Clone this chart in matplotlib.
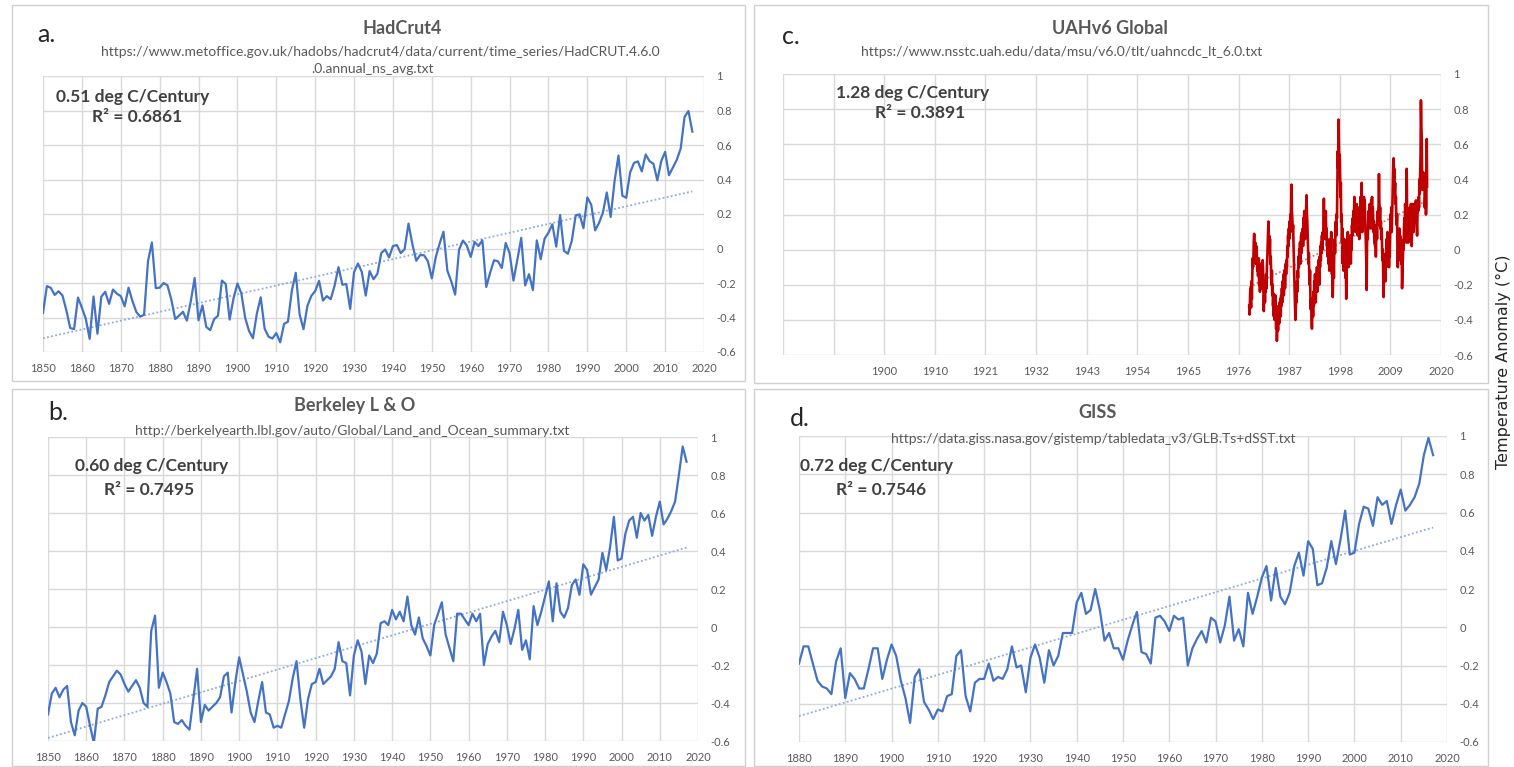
import numpy as np
import matplotlib
matplotlib.use("Agg")
import matplotlib.pyplot as plt
from matplotlib.patches import Rectangle

# ---------------------------------------------------------------- data
hadcrut_start = 1850
hadcrut = [
    -0.373, -0.218, -0.228, -0.269, -0.248, -0.272, -0.358, -0.461, -0.467, -0.284,
    -0.343, -0.407, -0.524, -0.278, -0.494, -0.279, -0.251, -0.321, -0.238, -0.262,
    -0.276, -0.335, -0.227, -0.304, -0.368, -0.395, -0.384, -0.075, 0.035, -0.230,
    -0.227, -0.200, -0.213, -0.296, -0.409, -0.389, -0.367, -0.418, -0.307, -0.171,
    -0.416, -0.330, -0.455, -0.473, -0.410, -0.390, -0.186, -0.206, -0.412, -0.289,
    -0.203, -0.259, -0.402, -0.479, -0.520, -0.377, -0.283, -0.465, -0.511, -0.522,
    -0.490, -0.544, -0.437, -0.424, -0.244, -0.141, -0.383, -0.468, -0.333, -0.275,
    -0.247, -0.187, -0.302, -0.276, -0.294, -0.215, -0.108, -0.210, -0.206, -0.350,
    -0.137, -0.087, -0.137, -0.273, -0.131, -0.178, -0.147, -0.026, -0.006, -0.052,
    0.014, 0.020, -0.027, -0.004, 0.144, 0.025, -0.071, -0.038, -0.039, -0.074,
    -0.173, -0.052, 0.028, 0.097, -0.129, -0.190, -0.267, -0.007, 0.046, 0.017,
    -0.049, 0.038, 0.014, 0.048, -0.223, -0.140, -0.068, -0.074, -0.113, 0.032,
    -0.027, -0.186, -0.065, 0.062, -0.214, -0.149, -0.241, 0.047, -0.062, 0.057,
    0.092, 0.140, 0.011, 0.194, -0.014, -0.030, 0.045, 0.192, 0.198, 0.118,
    0.296, 0.254, 0.105, 0.148, 0.208, 0.325, 0.183, 0.390, 0.539, 0.306,
    0.294, 0.441, 0.496, 0.505, 0.447, 0.545, 0.506, 0.491, 0.395, 0.506,
    0.560, 0.425, 0.470, 0.514, 0.579, 0.763, 0.797, 0.677,
]

berkeley_start = 1850
berkeley = [
    -0.46, -0.35, -0.32, -0.37, -0.33, -0.31, -0.50, -0.57, -0.44, -0.40,
    -0.42, -0.52, -0.61, -0.43, -0.42, -0.36, -0.29, -0.26, -0.23, -0.25,
    -0.30, -0.34, -0.31, -0.28, -0.32, -0.40, -0.42, -0.02, 0.06, -0.32,
    -0.24, -0.29, -0.35, -0.50, -0.51, -0.49, -0.52, -0.54, -0.38, -0.22,
    -0.50, -0.41, -0.44, -0.42, -0.40, -0.37, -0.26, -0.24, -0.45, -0.29,
    -0.16, -0.25, -0.34, -0.45, -0.50, -0.39, -0.29, -0.45, -0.46, -0.53,
    -0.52, -0.53, -0.46, -0.39, -0.27, -0.18, -0.38, -0.53, -0.38, -0.30,
    -0.29, -0.22, -0.30, -0.28, -0.26, -0.22, -0.08, -0.18, -0.19, -0.36,
    -0.15, -0.07, -0.13, -0.30, -0.15, -0.19, -0.14, 0.02, 0.03, 0.01,
    0.09, 0.04, 0.08, 0.03, 0.16, 0.01, -0.04, 0.05, -0.06, -0.10,
    -0.15, 0.01, 0.07, 0.13, -0.04, -0.11, -0.18, 0.07, 0.07, 0.04,
    0.01, 0.07, 0.03, 0.07, -0.20, -0.09, -0.05, -0.02, -0.08, 0.08,
    0.01, -0.09, -0.01, 0.09, -0.12, -0.07, -0.17, 0.11, 0.01, 0.08,
    0.16, 0.24, 0.03, 0.23, 0.08, 0.05, 0.10, 0.22, 0.25, 0.17,
    0.33, 0.30, 0.17, 0.21, 0.25, 0.39, 0.30, 0.42, 0.58, 0.35,
    0.36, 0.49, 0.56, 0.58, 0.47, 0.60, 0.56, 0.59, 0.48, 0.58,
    0.66, 0.54, 0.57, 0.61, 0.66, 0.80, 0.95, 0.87,
]

giss_start = 1880
giss = [
    -0.19, -0.10, -0.10, -0.19, -0.28, -0.31, -0.32, -0.35, -0.18, -0.11,
    -0.37, -0.24, -0.27, -0.32, -0.32, -0.22, -0.11, -0.11, -0.27, -0.17,
    -0.09, -0.15, -0.28, -0.37, -0.50, -0.26, -0.22, -0.39, -0.43, -0.48,
    -0.43, -0.44, -0.36, -0.35, -0.15, -0.12, -0.36, -0.44, -0.29, -0.27,
    -0.27, -0.19, -0.28, -0.26, -0.27, -0.22, -0.10, -0.21, -0.20, -0.34,
    -0.16, -0.09, -0.16, -0.29, -0.12, -0.20, -0.15, -0.03, -0.03, -0.03,
    0.13, 0.18, 0.07, 0.09, 0.20, 0.09, -0.07, -0.03, -0.11, -0.11,
    -0.17, -0.07, 0.01, 0.08, -0.13, -0.14, -0.19, 0.05, 0.06, 0.03,
    -0.02, 0.06, 0.04, 0.05, -0.20, -0.11, -0.06, -0.02, -0.08, 0.05,
    0.03, -0.08, 0.01, 0.16, -0.07, -0.01, -0.10, 0.18, 0.07, 0.16,
    0.26, 0.32, 0.14, 0.31, 0.16, 0.12, 0.18, 0.32, 0.39, 0.27,
    0.45, 0.41, 0.22, 0.23, 0.31, 0.45, 0.33, 0.46, 0.61, 0.38,
    0.39, 0.54, 0.63, 0.62, 0.53, 0.68, 0.64, 0.66, 0.54, 0.64,
    0.72, 0.61, 0.64, 0.68, 0.75, 0.90, 0.99, 0.90,
]

# monthly lower-troposphere anomalies, first value = December 1978
uah_start = 1978 + 11.5 / 12
uah_monthly = [
    -0.32,
    -0.37, -0.30, -0.22, -0.27, -0.33, -0.18, -0.28, -0.15, -0.05, -0.10, -0.06, 0.05,
    0.09, 0.02, -0.03, 0.04, -0.01, -0.08, 0.02, -0.04, -0.12, -0.06, -0.15, -0.10,
    -0.05, -0.20, -0.12, -0.24, -0.10, -0.16, -0.08, -0.22, -0.14, -0.18, -0.06, -0.12,
    -0.25, -0.35, -0.28, -0.20, -0.30, -0.18, -0.24, -0.14, -0.22, -0.10, -0.05, 0.02,
    0.10, 0.16, 0.04, 0.08, -0.02, 0.06, -0.08, -0.04, -0.14, -0.20, -0.12, -0.26,
    -0.20, -0.32, -0.25, -0.38, -0.28, -0.40, -0.33, -0.26, -0.36, -0.45, -0.40, -0.52,
    -0.44, -0.38, -0.46, -0.32, -0.36, -0.42, -0.30, -0.34, -0.28, -0.38, -0.26, -0.32,
    -0.22, -0.30, -0.18, -0.24, -0.14, -0.26, -0.20, -0.12, -0.22, -0.16, -0.08, -0.14,
    -0.06, -0.10, 0.02, -0.04, 0.08, 0.02, 0.12, 0.06, 0.16, 0.10, 0.20, 0.14,
    0.26, 0.37, 0.22, 0.18, 0.10, 0.14, 0.04, -0.06, -0.14, -0.22, -0.30, -0.40,
    -0.34, -0.26, -0.30, -0.18, -0.24, -0.12, -0.16, -0.04, -0.10, 0.00, -0.06, 0.04,
    -0.08, 0.02, 0.08, -0.02, 0.10, 0.04, 0.12, 0.02, 0.18, 0.08, 0.22, 0.14,
    0.06, 0.18, 0.10, 0.24, 0.31, 0.20, 0.16, 0.08, 0.02, -0.08, -0.02, -0.14,
    -0.20, -0.12, -0.26, -0.34, -0.28, -0.40, -0.45, -0.36, -0.30, -0.38, -0.24, -0.32,
    -0.18, -0.26, -0.14, -0.22, -0.30, -0.16, -0.20, -0.10, -0.24, -0.12, -0.18, -0.06,
    -0.12, -0.20, -0.04, -0.10, 0.02, -0.06, 0.04, -0.02, 0.08, 0.00, 0.10, 0.06,
    0.14, 0.29, 0.12, 0.20, 0.06, 0.16, 0.22, 0.08, 0.12, 0.02, 0.06, -0.04,
    0.04, -0.08, 0.02, -0.12, -0.04, 0.06, -0.06, 0.02, 0.10, -0.02, -0.14, -0.06,
    -0.27, -0.14, -0.04, -0.16, 0.00, 0.06, -0.02, 0.10, 0.16, 0.08, 0.20, 0.18,
    0.36, 0.56, 0.46, 0.74, 0.60, 0.48, 0.54, 0.44, 0.30, 0.38, 0.16, 0.20,
    0.04, 0.12, -0.08, 0.02, -0.12, -0.04, 0.06, -0.10, 0.00, -0.16, -0.06, -0.28,
    -0.14, 0.04, -0.06, 0.10, 0.00, -0.10, 0.06, 0.02, -0.04, 0.08, -0.02, -0.08,
    0.06, 0.00, 0.14, 0.08, 0.18, 0.12, 0.22, 0.16, 0.30, 0.12, 0.20, 0.10,
    0.22, 0.16, 0.26, 0.12, 0.20, 0.08, 0.24, 0.14, 0.18, 0.06, 0.16, 0.10,
    0.30, 0.20, 0.12, 0.38, 0.18, 0.10, 0.22, 0.28, 0.14, 0.30, 0.20, 0.28,
    0.18, 0.10, 0.04, -0.06, -0.23, 0.02, 0.10, 0.06, 0.16, 0.22, 0.14, 0.20,
    0.26, 0.16, 0.22, 0.12, 0.28, 0.20, 0.30, 0.14, 0.24, 0.18, 0.10, 0.16,
    0.04, 0.14, 0.02, 0.10, -0.04, 0.08, 0.14, 0.06, 0.18, 0.22, 0.14, 0.26,
    0.43, 0.28, 0.18, 0.24, 0.12, 0.16, 0.06, 0.12, 0.02, -0.06, 0.00, -0.12,
    -0.27, -0.14, -0.06, -0.16, -0.08, -0.18, -0.02, -0.10, 0.06, 0.00, 0.10, -0.02,
    -0.06, 0.04, -0.10, 0.02, -0.04, 0.08, 0.20, 0.12, 0.24, 0.10, 0.18, 0.26,
    0.38, 0.48, 0.52, 0.40, 0.46, 0.34, 0.38, 0.26, 0.30, 0.18, 0.14, 0.20,
    0.00, -0.10, -0.02, 0.08, -0.06, 0.12, 0.02, 0.08, -0.04, 0.06, -0.08, 0.00,
    -0.22, -0.14, -0.06, 0.04, 0.00, 0.12, 0.18, 0.10, 0.26, 0.20, 0.12, 0.04,
    0.46, 0.22, 0.10, 0.14, 0.04, 0.20, 0.08, 0.14, 0.24, 0.18, 0.10, 0.26,
    0.12, 0.02, 0.16, 0.20, 0.26, 0.18, 0.10, 0.16, 0.22, 0.26, 0.20, 0.24,
    0.28, 0.18, 0.14, 0.08, 0.20, 0.28, 0.22, 0.30, 0.24, 0.40, 0.32, 0.44,
    0.54, 0.85, 0.70, 0.64, 0.44, 0.34, 0.40, 0.44, 0.42, 0.36, 0.42, 0.24,
    0.30, 0.38, 0.20, 0.26, 0.63, 0.36,
]

# trend rates (deg C per century) and fit quality printed on each panel
trend_rates = {"a": 0.51, "b": 0.60, "c": 1.28, "d": 0.72}
r_squared = {"a": "0.6861", "b": "0.7495", "c": "0.3891", "d": "0.7546"}

titles = {"a": "HadCrut4", "b": "Berkeley L & O", "c": "UAHv6 Global", "d": "GISS"}
sources = {
    "a": "https://www.metoffice.gov.uk/hadobs/hadcrut4/data/current/time_series/HadCRUT.4.6.0",
    "a2": ".0.annual_ns_avg.txt",
    "b": "http://berkelyearth.lbl.gov/auto/Global/Land_and_Ocean_summary.txt",
    "c": "https://www.nsstc.uah.edu/data/msu/v6.0/tlt/uahncdc_lt_6.0.txt",
    "d": "https://data.giss.nasa.gov/gistemp/tabledata_v3/GLB.Ts+dSST.txt",
}

y_ticks = [-0.6, -0.4, -0.2, 0.0, 0.2, 0.4, 0.6, 0.8, 1.0]
y_tick_labels = ["-0.6", "-0.4", "-0.2", "0", "0.2", "0.4", "0.6", "0.8", "1"]
decade_ticks_1850 = list(range(1850, 2021, 10))
decade_ticks_1880 = list(range(1880, 2021, 10))
uah_tick_labels = ["1900", "1910", "1921", "1932", "1943", "1954",
                   "1965", "1976", "1987", "1998", "2009", "2020"]
y_axis_label = "Temperature Anomaly (\u00b0C)"

# ---------------------------------------------------------------- styling
W, H = 1514, 767
FONT = ["Lato", "DejaVu Sans"]
BLUE = "#4472C4"
TREND_BLUE = "#8FAADC"
RED = "#C00000"
GRID = "#D9D9D9"
TICK = "#595959"
TEXT = "#404040"

fig = plt.figure(figsize=(W / 100, H / 100), dpi=100)
fig.patch.set_facecolor("white")


def px_rect(left, right, top, bottom):
    return [left / W, 1 - bottom / H, (right - left) / W, (bottom - top) / H]


def ftext(x, y, s, **kw):
    kw.setdefault("family", FONT)
    fig.text(x / W, 1 - y / H, s, **kw)


def panel_box(left, right, top, bottom):
    fig.add_artist(Rectangle((left / W, 1 - bottom / H), (right - left) / W,
                             (bottom - top) / H, transform=fig.transFigure,
                             fill=False, edgecolor="#D0D0D0", lw=1.0))


def setup_axes(rect, xlim, xticks, xticklabels):
    ax = fig.add_axes(rect)
    ax.set_xlim(*xlim)
    ax.set_ylim(-0.6, 1.0)
    ax.set_yticks(y_ticks)
    ax.set_yticklabels(y_tick_labels)
    ax.set_xticks(xticks)
    ax.set_xticklabels(xticklabels)
    ax.yaxis.tick_right()
    ax.tick_params(axis="both", length=0, labelsize=8, labelcolor=TICK)
    ax.tick_params(axis="y", pad=9)
    ax.tick_params(axis="x", pad=8)
    for lab in ax.get_xticklabels() + ax.get_yticklabels():
        lab.set_family(FONT)
    for sp in ax.spines.values():
        sp.set_visible(False)
    ax.grid(True, color=GRID, lw=1.0)
    ax.set_axisbelow(True)
    return ax


def draw_trend(ax, x, y, rate, color):
    slope = rate / 100.0
    intercept = np.mean(y) - slope * np.mean(x)
    xs = np.array([x[0], x[-1]])
    ax.plot(xs, intercept + slope * xs, ls=(0, (1, 1.3)), lw=1.3, color=color, zorder=2)


# ---------------------------------------------------------------- panel boxes
panel_box(12, 745, 5, 381)
panel_box(754, 1488, 5, 383)
panel_box(12, 745, 389, 766)
panel_box(754, 1488, 389, 766)

# ---------------------------------------------------------------- a. HadCrut4
ax_a = setup_axes(px_rect(43, 704, 76, 352), (1850, 2020), decade_ticks_1850,
                  [str(t) for t in decade_ticks_1850])
xa = hadcrut_start + np.arange(len(hadcrut))
ax_a.plot(xa, hadcrut, color=BLUE, lw=1.6, zorder=3)
draw_trend(ax_a, xa, np.array(hadcrut), trend_rates["a"], TREND_BLUE)

# ---------------------------------------------------------------- b. Berkeley
ax_b = setup_axes(px_rect(48, 698, 437, 741), (1850, 2020), decade_ticks_1850,
                  [str(t) for t in decade_ticks_1850])
xb = berkeley_start + np.arange(len(berkeley))
ax_b.plot(xb, berkeley, color=BLUE, lw=1.6, zorder=3)
draw_trend(ax_b, xb, np.array(berkeley), trend_rates["b"], TREND_BLUE)

# ---------------------------------------------------------------- c. UAH (date axis, 4000-day steps)
step = 4000 / 365.25
uah_ticks = [1900 + k * step for k in range(-2, 12)]
ax_c = setup_axes(px_rect(783, 1441, 74, 355), (uah_ticks[0], uah_ticks[-1]),
                  uah_ticks, ["", ""] + uah_tick_labels)
xc = uah_start + np.arange(len(uah_monthly)) / 12.0
ax_c.plot(xc, uah_monthly, color=RED, lw=1.9, zorder=3)
draw_trend(ax_c, xc, np.array(uah_monthly), trend_rates["c"], "#E07070")

# ---------------------------------------------------------------- d. GISS
ax_d = setup_axes(px_rect(799, 1447, 436, 742), (1880, 2020), decade_ticks_1880,
                  [str(t) for t in decade_ticks_1880])
xd = giss_start + np.arange(len(giss))
ax_d.plot(xd, giss, color=BLUE, lw=1.6, zorder=3)
draw_trend(ax_d, xd, np.array(giss), trend_rates["d"], TREND_BLUE)

# ---------------------------------------------------------------- panel texts
letter_kw = dict(fontsize=18, color="#262626", ha="left", va="center")
title_kw = dict(fontsize=13, color=TICK, ha="center", va="center", fontweight="bold")
src_kw = dict(fontsize=10, color=TICK, ha="center", va="center")
rate_kw = dict(fontsize=12.5, color=TEXT, ha="left", va="center", fontweight="bold")

ftext(37, 34, "a.", **letter_kw)
ftext(402, 28, titles["a"], **title_kw)
ftext(380, 52, sources["a"], **src_kw)
ftext(372, 69, sources["a2"], **src_kw)
ftext(56, 97, f"{trend_rates['a']:.2f} deg C/Century", **rate_kw)
ftext(92, 117, f"R\u00b2 = {r_squared['a']}", **rate_kw)

ftext(48, 413, "b.", **letter_kw)
ftext(355, 406, titles["b"], **title_kw)
ftext(352, 431, sources["b"], **src_kw)
ftext(75, 466, f"{trend_rates['b']:.2f} deg C/Century", **rate_kw)
ftext(104, 490, f"R\u00b2 = {r_squared['b']}", **rate_kw)

ftext(782, 36, "c.", **letter_kw)
ftext(1110, 29, titles["c"], **title_kw)
ftext(1062, 52, sources["c"], **src_kw)
ftext(836, 93, f"{trend_rates['c']:.2f} deg C/Century", **rate_kw)
ftext(875, 113, f"R\u00b2 = {r_squared['c']}", **rate_kw)

ftext(790, 418, "d.", **letter_kw)
ftext(1098, 413, titles["d"], **title_kw)
ftext(1093, 439, sources["d"], **src_kw)
ftext(800, 466, f"{trend_rates['d']:.2f} deg C/Century", **rate_kw)
ftext(836, 490, f"R\u00b2 = {r_squared['d']}", **rate_kw)

ftext(1503, 362, y_axis_label, fontsize=11.5, color="#262626", rotation=90,
      ha="center", va="center", family=["DejaVu Sans"])

fig.savefig("out.png", dpi=100, facecolor="white")
